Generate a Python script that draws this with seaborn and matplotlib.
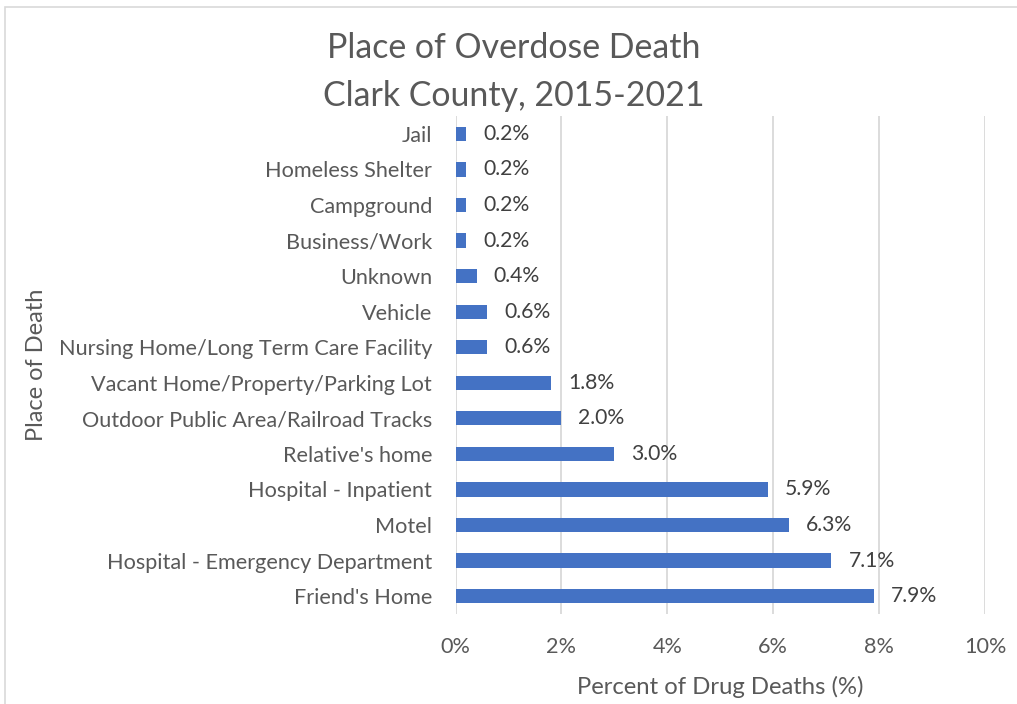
import matplotlib
matplotlib.use("Agg")
import matplotlib.pyplot as plt
import matplotlib.transforms as mtransforms
import seaborn as sns
import pandas as pd
from matplotlib.patches import Rectangle

places = [
    "Jail",
    "Homeless Shelter",
    "Campground",
    "Business/Work",
    "Unknown",
    "Vehicle",
    "Nursing Home/Long Term Care Facility",
    "Vacant Home/Property/Parking Lot",
    "Outdoor Public Area/Railroad Tracks",
    "Relative's home",
    "Hospital - Inpatient",
    "Motel",
    "Hospital - Emergency Department",
    "Friend's Home",
]
percents = [0.2, 0.2, 0.2, 0.2, 0.4, 0.6, 0.6, 1.8, 2.0, 3.0, 5.9, 6.3, 7.1, 7.9]
x_ticks = [0, 2, 4, 6, 8, 10]

df = pd.DataFrame({"place": places, "pct": percents})

sns.set_theme(style="white")
plt.rcParams["font.family"] = ["Lato", "DejaVu Sans"]

text_color = "#595959"
bar_color = "#4472C4"

fig = plt.figure(figsize=(10.17, 7.04), dpi=100)
ax = fig.add_axes([0.448, 0.128, 0.5205, 0.707])

sns.barplot(data=df, x="pct", y="place", orient="h", color=bar_color,
            width=0.4, saturation=1, ax=ax, edgecolor="none")

ax.set_xlim(0, 10)
ax.set_xticks(x_ticks)
ax.set_xticklabels([f"{t}%" for t in x_ticks])
ax.grid(axis="x", color="#d9d9d9", linewidth=1.3)
ax.set_axisbelow(True)
for s in ax.spines.values():
    s.set_visible(False)
ax.tick_params(axis="both", length=0, labelsize=15.6, colors=text_color)
ax.tick_params(axis="y", pad=17)
ax.tick_params(axis="x", pad=17)

for i, v in enumerate(percents):
    ax.text(v + 0.32, i, f"{v:.1f}%", va="center", ha="left",
            fontsize=15.2, color="#404040")

ax.set_xlabel("Percent of Drug Deaths (%)", fontsize=17.2, color=text_color, labelpad=13)
ax.set_ylabel("Place of Death", fontsize=17, color=text_color)
ax.yaxis.set_label_coords(47 / 1017, 0.5,
                          transform=mtransforms.blended_transform_factory(
                              fig.transFigure, ax.transAxes))

fig.text(0.505, 0.898, "Place of Overdose Death\nClark County, 2015-2021",
         ha="center", va="center", fontsize=24.4, color=text_color,
         linespacing=1.62)

fig.patches.append(Rectangle((5 / 1017, -0.05), 1.2, 1 - 7 / 704 + 0.05,
                             transform=fig.transFigure, fill=False,
                             edgecolor="#d9d9d9", linewidth=1.2))

fig.savefig("out.png", dpi=100, facecolor="white")
